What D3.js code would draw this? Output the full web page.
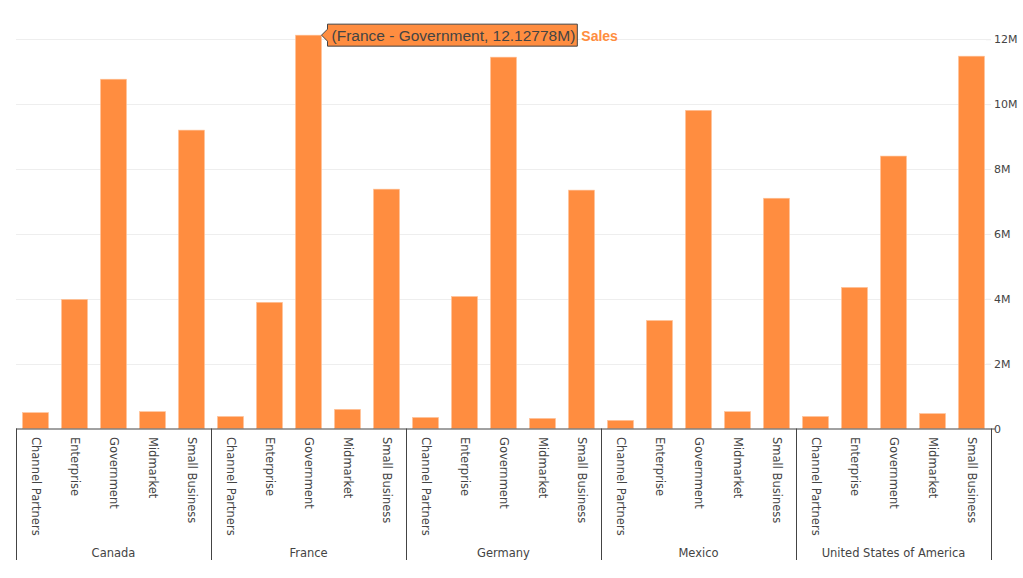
<!DOCTYPE html>
<html>
<head>
<meta charset="utf-8">
<script src="https://cdn.jsdelivr.net/npm/d3@7"></script>
<style>
  body { margin: 0; background: #fff; }
  svg { display: block; }
</style>
</head>
<body>
<svg id="chart" width="1023" height="578"></svg>
<script>
// data (values in millions)
var countries = ["Canada", "France", "Germany", "Mexico", "United States of America"];
var segments = ["Channel Partners", "Enterprise", "Government", "Midmarket", "Small Business"];
var canada  = [0.49, 3.98, 10.77, 0.52, 9.20];
var france  = [0.37, 3.89, 12.12778, 0.59, 7.38];
var germany = [0.34, 4.07, 11.45, 0.31, 7.35];
var mexico  = [0.25, 3.33, 9.81, 0.52, 7.10];
var usa     = [0.37, 4.35, 8.40, 0.46, 11.48];
var yTicks = [0, 2, 4, 6, 8, 10, 12];
var yTickLabels = ["0", "2M", "4M", "6M", "8M", "10M", "12M"];

var seriesByCountry = [canada, france, germany, mexico, usa];
var rows = [];
countries.forEach(function (c, i) {
  segments.forEach(function (s, j) {
    rows.push({ country: c, segment: s, key: c + "|" + s, value: seriesByCountry[i][j] });
  });
});

var plotLeft = 16, plotRight = 991, plotTop = 39.3, plotBase = 428.5;
var orange = "#ff8d40";
var txt = "#444";

var svg = d3.select("#chart");

var x = d3.scaleBand()
  .domain(rows.map(function (d) { return d.key; }))
  .range([plotLeft, plotRight])
  .paddingInner(1 / 3)
  .paddingOuter(1 / 6);

var xGroup = d3.scaleBand()
  .domain(countries)
  .range([plotLeft, plotRight]);

var y = d3.scaleLinear().domain([0, 12]).range([plotBase, plotTop]);

// gridlines
svg.append("g").selectAll("line")
  .data(yTicks.slice(1))
  .enter().append("line")
    .attr("x1", plotLeft).attr("x2", plotRight)
    .attr("y1", function (d) { return Math.round(y(d)) + 0.5; })
    .attr("y2", function (d) { return Math.round(y(d)) + 0.5; })
    .attr("stroke", "#eee").attr("stroke-width", 1);

// right y axis
var yAxis = d3.axisRight(y)
  .tickValues(yTicks)
  .tickSize(5)
  .tickFormat(function (d, i) { return yTickLabels[i]; });

var ya = svg.append("g")
  .attr("transform", "translate(" + (plotRight - 5) + ",0)")
  .call(yAxis);
ya.select(".domain").remove();
ya.selectAll(".tick line").attr("stroke", "#eee");
ya.selectAll(".tick text")
  .attr("x", 8)
  .attr("fill", txt)
  .style("font-family", "DejaVu Sans, Verdana, sans-serif")
  .style("font-size", "11px");

// bars
svg.append("g").selectAll("rect")
  .data(rows)
  .enter().append("rect")
    .attr("x", function (d) { return x(d.key); })
    .attr("width", x.bandwidth())
    .attr("y", function (d) { return y(d.value); })
    .attr("height", function (d) { return plotBase - y(d.value); })
    .attr("fill", orange)
    .attr("stroke", "#ffc49c")
    .attr("stroke-width", 0.6);

// x axis line
svg.append("line")
  .attr("x1", plotLeft).attr("x2", plotRight + 4)
  .attr("y1", plotBase + 0.5).attr("y2", plotBase + 0.5)
  .attr("stroke", txt).attr("stroke-width", 1);

// group dividers
var dividers = countries.map(function (c) { return xGroup(c); }).concat([plotRight]);
svg.append("g").selectAll("line")
  .data(dividers)
  .enter().append("line")
    .attr("x1", function (d) { return Math.round(d) + 0.5; })
    .attr("x2", function (d) { return Math.round(d) + 0.5; })
    .attr("y1", plotBase).attr("y2", 560)
    .attr("stroke", txt).attr("stroke-width", 1);

// segment labels, rotated
svg.append("g").selectAll("text")
  .data(rows)
  .enter().append("text")
    .attr("transform", function (d) {
      var cx = x(d.key) + x.bandwidth() / 2;
      return "translate(" + (cx - 4) + ",437) rotate(90)";
    })
    .attr("fill", txt)
    .style("font-family", "DejaVu Sans, Verdana, sans-serif")
    .style("font-size", "11.5px")
    .text(function (d) { return d.segment; });

// country labels
svg.append("g").selectAll("text")
  .data(countries)
  .enter().append("text")
    .attr("x", function (d) { return xGroup(d) + xGroup.bandwidth() / 2; })
    .attr("y", 557)
    .attr("text-anchor", "middle")
    .attr("fill", txt)
    .style("font-family", "DejaVu Sans, Verdana, sans-serif")
    .style("font-size", "11.5px")
    .text(function (d) { return d; });

// hover label on France - Government
var hov = rows.filter(function (d) { return d.country === "France" && d.segment === "Government"; })[0];
var hx = x(hov.key) + x.bandwidth(), hy = y(hov.value);
var tip = svg.append("g").attr("transform", "translate(" + hx + "," + hy + ")");
var tipText = tip.append("text")
  .attr("x", 10).attr("y", 5.5)
  .attr("fill", txt)
  .style("font-family", "Liberation Sans, Arial, sans-serif")
  .style("font-size", "15.5px")
  .text("(" + hov.country + " - " + hov.segment + ", " + hov.value.toFixed(5) + "M)");
var tw = tipText.node().getComputedTextLength();
var bw = tw + 6, bh = 22;
tip.insert("path", "text")
  .attr("d", "M0,0 L6,-6 L6,-" + (bh / 2) + " L" + (6 + bw) + ",-" + (bh / 2) +
        " L" + (6 + bw) + "," + (bh / 2) + " L6," + (bh / 2) + " L6,6 Z")
  .attr("fill", orange)
  .attr("stroke", txt)
  .attr("stroke-width", 1);
tip.append("text")
  .attr("x", 6 + bw + 4).attr("y", 5.5)
  .attr("fill", orange)
  .style("font-family", "Liberation Sans, Arial, sans-serif")
  .style("font-size", "14px")
  .style("font-weight", "bold")
  .text("Sales");
</script>
</body>
</html>
